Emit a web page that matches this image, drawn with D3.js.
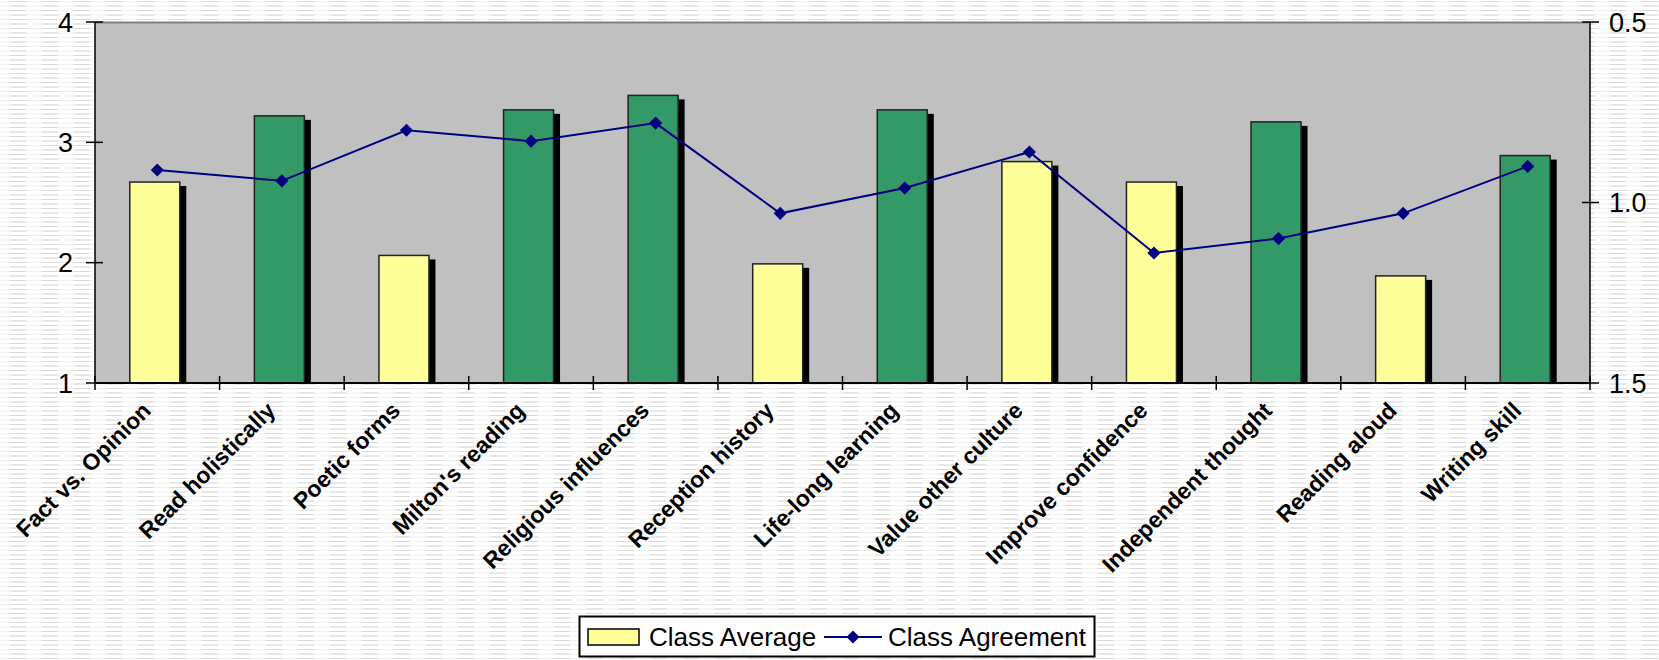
<!DOCTYPE html>
<html>
<head>
<meta charset="utf-8">
<script src="https://d3js.org/d3.v7.min.js"></script>
<style>
    html, body { margin: 0; padding: 0; background: #ffffff; }
    svg { display: block; font-family: "Liberation Sans", Arial, sans-serif; }
</style>
</head>
<body>
<div id="chart"></div>
<script>

// categories along the bottom
var categories = [
    "Fact vs. Opinion", "Read holistically", "Poetic forms", "Milton's reading",
    "Religious influences", "Reception history", "Life-long learning",
    "Value other culture", "Improve confidence", "Independent thought",
    "Reading aloud", "Writing skill"
];

// left axis series (bars)
var classAverage = [2.67, 3.22, 2.06, 3.27, 3.39, 1.99, 3.27, 2.84, 2.67, 3.17, 1.89, 2.89];

// bars drawn in the darker (green) fill
var highlighted = [false, true, false, true, true, false, true, false, false, true, false, true];

// right axis series (line), axis is reversed
var classAgreement = [0.91, 0.94, 0.80, 0.83, 0.78, 1.03, 0.96, 0.86, 1.14, 1.10, 1.03, 0.90];

// tick values
var leftTicks = [1, 2, 3, 4];
var rightTicks = [0.5, 1.0, 1.5];

// legend entries
var legendLabels = ["Class Average", "Class Agreement"];

(function () {

    "use strict";

    var width = 1659,
        height = 660,
        plot = { left: 95, right: 1590, top: 22, bottom: 383 };

    var svg = d3.select("#chart")
        .append("svg")
            .attr("width", width)
            .attr("height", height);

    // striped paper background
    var defs = svg.append("defs");
    var pat = defs.append("pattern")
        .attr("id", "paper")
        .attr("patternUnits", "userSpaceOnUse")
        .attr("width", 32)
        .attr("height", 9);
    pat.append("rect").attr("width", 32).attr("height", 9).attr("fill", "#ffffff");
    [1, 5.5].forEach(function (y) {
        pat.append("rect").attr("x", 0).attr("y", y).attr("width", 32).attr("height", 1).attr("fill", "#efefef");
        pat.append("rect").attr("x", 10).attr("y", y).attr("width", 16).attr("height", 1).attr("fill", "#d9d9d9");
    });

    svg.append("rect")
        .attr("width", width)
        .attr("height", height)
        .attr("fill", "url(#paper)");

    // scales
    var x = d3.scaleBand()
        .domain(categories)
        .range([plot.left, plot.right])
        .padding(0);

    var yLeft = d3.scaleLinear()
        .domain([1, 4])
        .range([plot.bottom, plot.top]);

    var yRight = d3.scaleLinear()
        .domain([0.5, 1.5])
        .range([plot.top, plot.bottom]);

    // plot area
    svg.append("rect")
        .attr("x", plot.left)
        .attr("y", plot.top)
        .attr("width", plot.right - plot.left)
        .attr("height", plot.bottom - plot.top)
        .attr("fill", "#c0c0c0");

    svg.append("line")
        .attr("x1", plot.left).attr("x2", plot.right)
        .attr("y1", plot.top + 0.5).attr("y2", plot.top + 0.5)
        .attr("stroke", "#808080")
        .attr("stroke-width", 2);

    defs.append("clipPath")
        .attr("id", "plotclip")
        .append("rect")
            .attr("x", plot.left)
            .attr("y", plot.top)
            .attr("width", plot.right - plot.left)
            .attr("height", plot.bottom - plot.top);

    var barW = 50,
        shadowDx = 6.5,
        shadowDy = 4;

    var bars = svg.append("g")
        .attr("clip-path", "url(#plotclip)")
        .selectAll("g")
        .data(categories)
        .enter()
        .append("g");

    // drop shadows
    bars.append("rect")
        .attr("x", function (d) { return x(d) + x.bandwidth() / 2 - 27.5 + shadowDx; })
        .attr("y", function (d, i) { return yLeft(classAverage[i]) + shadowDy; })
        .attr("width", barW)
        .attr("height", function (d, i) { return plot.bottom - yLeft(classAverage[i]); })
        .attr("fill", "#000000");

    bars.append("rect")
        .attr("x", function (d) { return x(d) + x.bandwidth() / 2 - 27.5; })
        .attr("y", function (d, i) { return yLeft(classAverage[i]); })
        .attr("width", barW)
        .attr("height", function (d, i) { return plot.bottom - yLeft(classAverage[i]); })
        .attr("fill", function (d, i) { return highlighted[i] ? "#339966" : "#ffff99"; })
        .attr("stroke", "#222222")
        .attr("stroke-width", 1.5);

    // agreement line
    var line = d3.line()
        .x(function (d, i) { return x(categories[i]) + x.bandwidth() / 2; })
        .y(function (d) { return yRight(d); });

    svg.append("path")
        .datum(classAgreement)
        .attr("d", line)
        .attr("fill", "none")
        .attr("stroke", "#000080")
        .attr("stroke-width", 2);

    var diamond = d3.symbol().type(d3.symbolDiamond2).size(110);

    svg.selectAll(".pt")
        .data(classAgreement)
        .enter()
        .append("path")
            .attr("class", "pt")
            .attr("d", diamond)
            .attr("transform", function (d, i) {
                return "translate(" + (x(categories[i]) + x.bandwidth() / 2) + "," + yRight(d) + ")";
            })
            .attr("fill", "#000080");

    // axes lines
    var axisG = svg.append("g")
        .attr("stroke", "#000000")
        .attr("stroke-width", 1.5);

    axisG.append("line")
        .attr("x1", plot.left).attr("x2", plot.left)
        .attr("y1", plot.top).attr("y2", plot.bottom);
    axisG.append("line")
        .attr("x1", plot.right).attr("x2", plot.right)
        .attr("y1", plot.top).attr("y2", plot.bottom);
    axisG.append("line")
        .attr("x1", plot.left).attr("x2", plot.right)
        .attr("y1", plot.bottom).attr("y2", plot.bottom)
        .attr("stroke-width", 2);

    // cross ticks
    axisG.selectAll(".lt")
        .data(leftTicks)
        .enter()
        .append("line")
            .attr("x1", plot.left - 9).attr("x2", plot.left + 8)
            .attr("y1", function (d) { return yLeft(d); })
            .attr("y2", function (d) { return yLeft(d); });

    axisG.selectAll(".rt")
        .data(rightTicks)
        .enter()
        .append("line")
            .attr("x1", plot.right - 8).attr("x2", plot.right + 9)
            .attr("y1", function (d) { return yRight(d); })
            .attr("y2", function (d) { return yRight(d); });

    var bounds = categories.map(function (d) { return x(d); }).concat([plot.right]);

    axisG.selectAll(".bt")
        .data(bounds)
        .enter()
        .append("line")
            .attr("x1", function (d) { return d; })
            .attr("x2", function (d) { return d; })
            .attr("y1", plot.bottom - 7)
            .attr("y2", plot.bottom + 7);

    // tick labels
    svg.selectAll(".ll")
        .data(leftTicks)
        .enter()
        .append("text")
            .attr("x", 73)
            .attr("y", function (d) { return yLeft(d); })
            .attr("dy", "0.36em")
            .attr("text-anchor", "end")
            .attr("font-size", 27)
            .text(function (d) { return d; });

    svg.selectAll(".rl")
        .data(rightTicks)
        .enter()
        .append("text")
            .attr("x", 1609)
            .attr("y", function (d) { return yRight(d); })
            .attr("dy", "0.36em")
            .attr("font-size", 27)
            .text(function (d) { return d3.format(".1f")(d); });

    svg.selectAll(".cl")
        .data(categories)
        .enter()
        .append("text")
            .attr("transform", function (d) {
                return "translate(" + (x(d) + x.bandwidth() / 2 - 5) + "," + 412 + ") rotate(-45)";
            })
            .attr("text-anchor", "end")
            .attr("font-size", 23)
            .attr("font-weight", "bold")
            .text(function (d) { return d; });

    // legend
    var lg = svg.append("g");

    lg.append("rect")
        .attr("x", 579.5).attr("y", 616.5)
        .attr("width", 515).attr("height", 40)
        .attr("fill", "#ffffff")
        .attr("stroke", "#000000")
        .attr("stroke-width", 2);

    lg.append("rect")
        .attr("x", 588).attr("y", 629)
        .attr("width", 51).attr("height", 16)
        .attr("fill", "#ffff99")
        .attr("stroke", "#000000")
        .attr("stroke-width", 1.5);

    lg.append("text")
        .attr("x", 649).attr("y", 646)
        .attr("font-size", 26)
        .text(legendLabels[0]);

    lg.append("line")
        .attr("x1", 824).attr("x2", 882)
        .attr("y1", 637).attr("y2", 637)
        .attr("stroke", "#000080")
        .attr("stroke-width", 2);

    lg.append("path")
        .attr("d", diamond)
        .attr("transform", "translate(853,637)")
        .attr("fill", "#000080");

    lg.append("text")
        .attr("x", 888).attr("y", 646)
        .attr("font-size", 26)
        .text(legendLabels[1]);

}());

</script>
</body>
</html>
